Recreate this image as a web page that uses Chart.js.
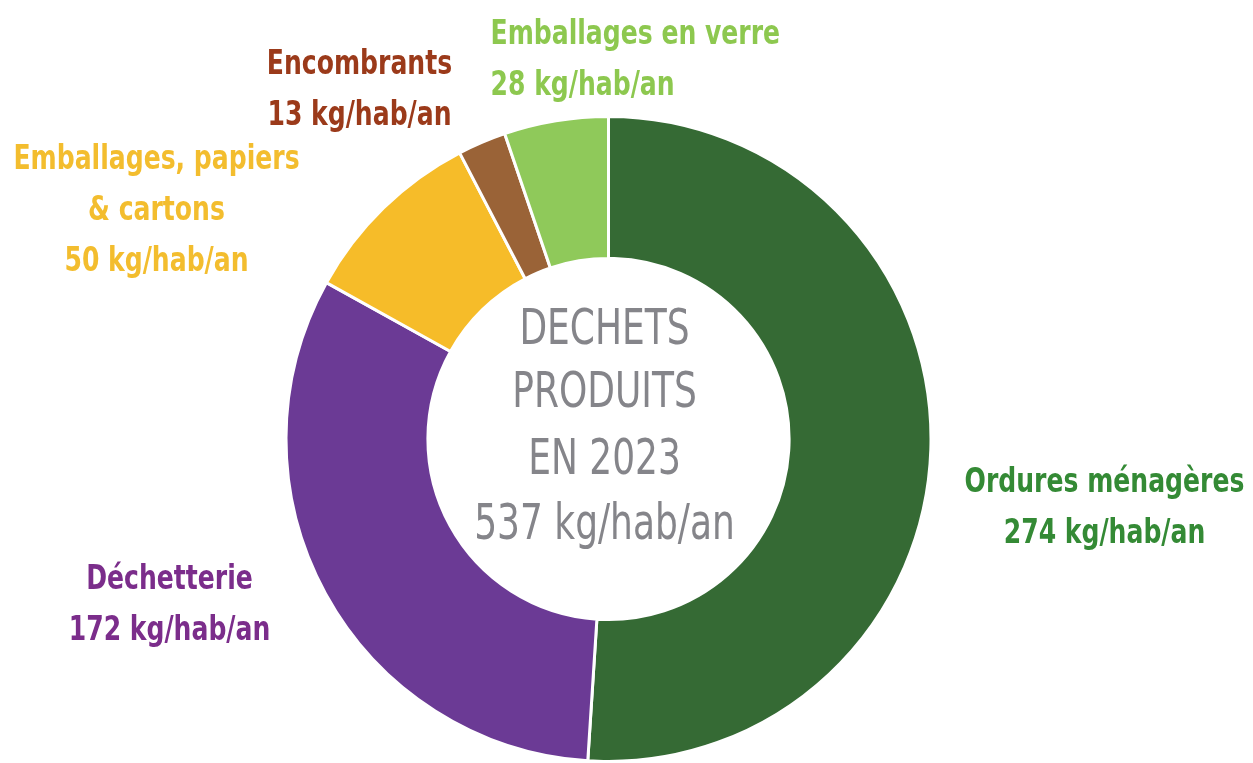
<!DOCTYPE html>
<html>
<head>
<meta charset="utf-8">
<script src="https://cdn.jsdelivr.net/npm/chart.js@4.4.0/dist/chart.umd.min.js"></script>
<style>
  html, body { margin: 0; padding: 0; background: #fff; }
  #wrap { width: 1253px; height: 763px; position: relative; }
</style>
</head>
<body>
<div id="wrap"><canvas id="chart"></canvas></div>
<script>
// Déchets produits en 2023 (kg/hab/an)
const categories = [
  "Ordures ménagères",
  "Déchetterie",
  "Emballages, papiers & cartons",
  "Encombrants",
  "Emballages en verre",
];
const values = [274, 172, 50, 13, 28];
const sliceColors = ["#356a34", "#6b3a95", "#f6bc29", "#9a6337", "#8fc95a"];
const labelColors = ["#348a35", "#7b2d8b", "#f3bd2e", "#9b3a1a", "#8dc84f"];
const centerLines = ["DECHETS", "PRODUITS", "EN 2023", "537 kg/hab/an"];

const FONT = '"DejaVu Sans Condensed", "Liberation Sans Narrow", sans-serif';

// label blocks: lines, anchor x/y offsets from chart center, alignment
const labelBlocks = [
  { i: 0, lines: ["Ordures ménagères", "274 kg/hab/an"], dx: 496, dy: 53, align: "center" },
  { i: 1, lines: ["Déchetterie", "172 kg/hab/an"], dx: -439, dy: 150, align: "center" },
  { i: 2, lines: ["Emballages, papiers", "& cartons", "50 kg/hab/an"], dx: -452, dy: -270, align: "center" },
  { i: 3, lines: ["Encombrants", "13 kg/hab/an"], dx: -249, dy: -365, align: "center" },
  { i: 4, lines: ["Emballages en verre", "28 kg/hab/an"], dx: -118, dy: -395, align: "left" },
];

// draw text squeezed horizontally (condensed look)
function squeezed(ctx, text, x, y, sx) {
  ctx.save();
  ctx.translate(x, y);
  ctx.scale(sx, 1);
  ctx.fillText(text, 0, 0);
  ctx.restore();
}

const textPlugin = {
  id: "textPlugin",
  afterDraw(chart) {
    const ctx = chart.ctx;
    const arc = chart.getDatasetMeta(0).data[0];
    const cx = arc.x, cy = arc.y;
    ctx.save();
    ctx.textBaseline = "alphabetic";

    labelBlocks.forEach((b) => {
      ctx.fillStyle = labelColors[b.i];
      ctx.font = "bold 34px " + FONT;
      ctx.textAlign = b.align;
      b.lines.forEach((t, k) => {
        squeezed(ctx, t, cx + b.dx, cy + b.dy + k * 51, 0.82);
      });
    });

    ctx.fillStyle = "#85858a";
    ctx.textAlign = "center";
    ctx.font = "50px " + FONT;
    const base = [-95, -32, 35, 100];
    centerLines.forEach((t, k) => {
      squeezed(ctx, t, cx - 4, cy + base[k], 0.8);
    });
    ctx.restore();
  },
};

new Chart(document.getElementById("chart"), {
  type: "doughnut",
  data: {
    labels: categories,
    datasets: [
      {
        data: values,
        backgroundColor: sliceColors,
        borderColor: "#ffffff",
        borderWidth: 3,
        borderJoinStyle: "miter",
      },
    ],
  },
  options: {
    responsive: true,
    maintainAspectRatio: false,
    animation: false,
    cutout: "56%",
    layout: { padding: { top: 115, bottom: 0, left: 284, right: 320 } },
    plugins: {
      legend: { display: false },
      tooltip: { enabled: false },
    },
  },
  plugins: [textPlugin],
});
</script>
</body>
</html>
